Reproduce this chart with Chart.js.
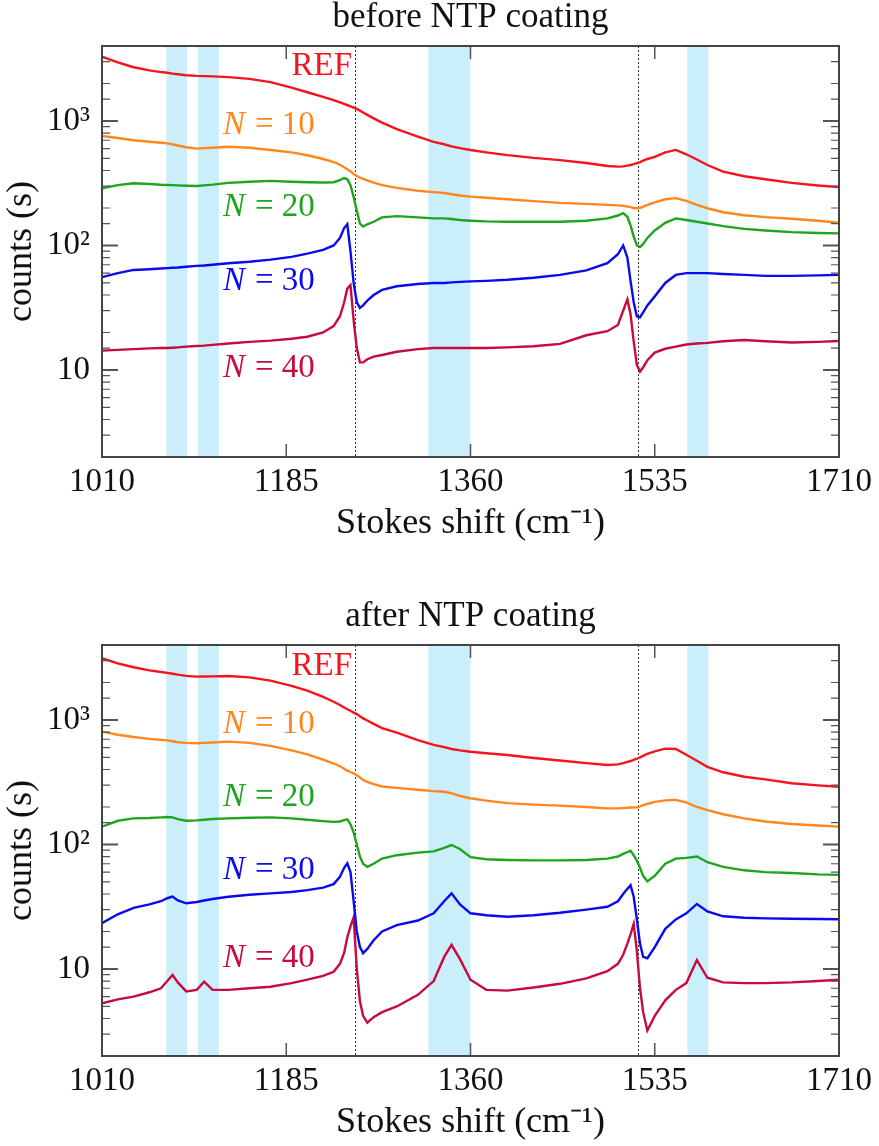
<!DOCTYPE html>
<html><head><meta charset="utf-8">
<script src="https://cdn.jsdelivr.net/npm/chart.js@4/dist/chart.umd.min.js"></script>
<style>
html,body{margin:0;padding:0;background:#fff;}
canvas{position:absolute;left:0;}
#c1{top:0;}
#c2{top:599px;}
</style></head><body>
<canvas id="c1" width="879" height="547"></canvas>
<canvas id="c2" width="879" height="547"></canvas>
<script>
// Stokes shift sample positions (cm^-1)
const shift = [1010,1025,1040,1055,1066,1072,1077,1082,1090,1100,
  1107,1115,1130,1150,1170,1190,1205,1220,1230,1236,
  1240,1243,1246,1249,1252,1255,1258,1262,1268,1276,
  1290,1310,1325,1335,1342,1350,1360,1375,1395,1420,
  1445,1470,1490,1500,1505,1509,1512,1515,1518,1521,
  1524,1528,1535,1545,1555,1565,1575,1585,1600,1620,
  1640,1665,1690,1710];

// before NTP coating
const beforeREF = [3280,2950,2700,2550,2470,2440,2400,2370,2330,2300,
  2290,2280,2250,2180,2050,1850,1700,1560,1470,1410,
  1370,1340,1310,1280,1250,1210,1170,1120,1050,970,
  860,750,680,650,625,605,585,560,532,505,
  485,460,435,430,432,438,443,450,458,468,
  480,495,515,560,585,540,490,443,392,360,
  340,318,303,294];
const beforeN10 = [758,730,700,680,668,660,650,635,615,600,
  605,610,620,610,585,560,530,495,468,445,
  425,410,395,375,362,350,342,333,320,305,
  290,275,268,264,258,252,247,242,235,227,
  220,216,212,210,208,205,203,200,199,200,
  205,212,222,235,240,228,212,199,185,175,
  169,164,158,152];
const beforeN20 = [288,305,316,312,307,306,305,304,302,300,
  304,308,318,325,330,325,322,320,322,335,
  348,340,305,245,190,150,142,148,155,168,
  172,168,165,165,163,160,158,156,155,155,
  155,158,165,174,182,170,145,118,100,97,
  103,115,132,152,165,160,155,150,143,136,
  132,128,126,125];
const beforeN30 = [55.6,60,63.6,64.5,65.3,65.8,66.2,66.6,67.5,68.5,
  69,70,72,74,77,81,86,92,100,115,
  138,148,90,50,35,31.5,33,36,40,44,
  47,49,50,50,50.5,51,51.5,52,53,55,
  58,63,72,85,100,80,52,35,27,26.5,
  29,33,39,50,58,60,60,60,59,58,
  57,57,57.5,58];
const beforeN40 = [14.3,14.5,14.7,14.9,15,15,15.1,15.2,15.4,15.6,
  15.7,15.9,16.3,16.8,17.2,17.8,18.5,20,22.5,27,
  35,45,48,25,15,11.5,11.5,12.2,12.8,13.2,
  14,14.7,15,15,15,15,15,15,15.2,15.5,
  16.2,19,20.5,23,30,37,28,17,11,9.7,
  10.5,12,13.8,14.8,15.4,16,16.3,16.5,17,17.4,
  17,16.6,16.8,17.1];

// after NTP coating
const afterREF = [3130,2850,2650,2500,2430,2390,2350,2310,2260,2230,
  2235,2240,2255,2200,2070,1880,1720,1530,1400,1320,
  1260,1220,1185,1145,1115,1070,1030,990,930,860,
  790,690,630,605,585,570,556,540,523,495,
  472,450,435,440,450,460,468,478,488,500,
  515,535,560,588,585,525,470,420,380,350,
  333,310,298,291];
const afterN10 = [806,760,730,705,692,686,675,662,655,650,
  655,660,670,655,620,570,530,480,447,425,
  405,392,382,373,360,345,330,318,305,292,
  285,275,268,265,258,245,235,225,215,209,
  205,200,195,195,196,197,198,198,199,202,
  207,212,220,226,228,218,200,189,175,162,
  153,146,142,139];
const afterN20 = [139,155,162,163,165,166,165,160,155,156,
  158,160,162,164,165,162,158,154,152,153,
  157,159,145,125,100,80,70,66,70,77,
  82,86,88,94,99,92,79,76,75,74.5,
  74.5,75,77,80,84,87,89,82,74,65,
  56,50.5,56,70,77,78,80,72,66,62,
  60,59,57.5,57];
const afterN30 = [23.3,27.5,31,33,35,37,38.1,35.5,33.7,34.5,
  35.5,36.5,38,39.5,40.5,41.5,43,45,48,55,
  65,70.6,60,35,20,15,13.4,14.5,17,20,
  22.5,24.5,28,35,40.5,33,28,27,26.3,27,
  28.3,30,31.6,35,40,44,47,38,25,16,
  12.5,12.2,15,21,25,28,33.3,29,26.5,25.8,
  25.5,25.3,25.2,25.1];
const afterN40 = [5.3,5.7,6.0,6.5,7.0,8.0,8.95,7.8,6.6,6.8,
  7.9,6.8,6.8,7.0,7.2,7.7,8.2,8.8,9.5,11,
  13.5,18,22,26,10,5.5,4.2,3.7,4.1,4.5,
  5.0,6.2,8,12.5,15.6,12,8.2,6.8,6.7,7.1,
  7.6,8.4,9.6,11,13,16,19,23,14,7,
  4.5,3.2,4.2,5.6,6.8,7.7,11.8,8.5,7.8,7.7,
  7.7,7.8,8.0,8.2];

const seriesNames = ['REF','N = 10','N = 20','N = 30','N = 40'];
const xTicks = [1010,1185,1360,1535,1710];
const yTickLabels = {10:'10',100:'10\u00B2',1000:'10\u00B3'};
const bands = [[1071,1091],[1101,1121],[1320,1360],[1566,1586]];
const markers = [1250.5,1519];
// label anchors (data units)
const labelsBefore = [[1190,2770],[1125,929],[1125,204],[1125,51.9],[1125,10.4]];
const labelsAfter  = [[1190,2716],[1125,920],[1125,241],[1125,62.4],[1125,12.2]];

const colors = ['rgb(245,20,30)','rgb(255,135,30)','rgb(30,165,30)','rgb(10,10,240)','rgb(200,10,60)'];
const FONT = "'Liberation Serif','Times New Roman',serif";
const TXT = '#111';
const BAND = 'rgb(202,238,250)';

function yLabel(v){
  for (const k in yTickLabels){ if (Math.abs(v-k)/k < 1e-6) return yTickLabels[k]; }
  return '';
}
function isMajor(v){ return yLabel(v) !== ''; }

const decor = {
  id:'decor',
  beforeDatasetsDraw(chart){
    const {ctx, chartArea:a, scales:{x}} = chart;
    ctx.save();
    ctx.fillStyle = BAND;
    bands.forEach(([l,r])=>{
      const x1 = x.getPixelForValue(l), x2 = x.getPixelForValue(r);
      ctx.fillRect(x1, a.top, x2-x1, a.bottom-a.top);
    });
    ctx.strokeStyle = '#333'; ctx.lineWidth = 1; ctx.setLineDash([2,2]);
    markers.forEach(m=>{
      const px = Math.round(x.getPixelForValue(m)) + 0.5;
      ctx.beginPath(); ctx.moveTo(px, a.top); ctx.lineTo(px, a.bottom); ctx.stroke();
    });
    ctx.restore();
  },
  afterDatasetsDraw(chart, args, opts){
    const {ctx, chartArea:a, scales:{x,y}} = chart;
    ctx.save();
    // inward ticks
    ctx.strokeStyle = '#555'; ctx.lineWidth = 1.5;
    x.ticks.forEach(t=>{
      const px = x.getPixelForValue(t.value);
      ctx.beginPath();
      ctx.moveTo(px, a.bottom); ctx.lineTo(px, a.bottom-13);
      ctx.moveTo(px, a.top); ctx.lineTo(px, a.top+13);
      ctx.stroke();
    });
    y.ticks.forEach(t=>{
      const py = y.getPixelForValue(t.value);
      if (py < a.top+1 || py > a.bottom-1) return;
      const len = isMajor(t.value) ? 16 : 8;
      ctx.lineWidth = isMajor(t.value) ? 2 : 1.2;
      ctx.beginPath();
      ctx.moveTo(a.left, py); ctx.lineTo(a.left+len, py);
      ctx.moveTo(a.right, py); ctx.lineTo(a.right-len, py);
      ctx.stroke();
    });
    // frame
    ctx.strokeStyle = '#444'; ctx.lineWidth = 2;
    ctx.strokeRect(a.left, a.top, a.right-a.left, a.bottom-a.top);
    // series labels
    ctx.textBaseline = 'middle'; ctx.textAlign = 'left';
    (opts.labels||[]).forEach(([lx,ly],i)=>{
      let px = x.getPixelForValue(lx);
      const py = y.getPixelForValue(ly);
      ctx.fillStyle = colors[i];
      const name = seriesNames[i];
      if (name.startsWith('N')){
        ctx.font = "italic 33px " + FONT;
        ctx.fillText('N', px, py);
        px += ctx.measureText('N').width + 10;
        ctx.font = "33px " + FONT;
        ctx.fillText('=', px, py);
        px += ctx.measureText('=').width + 8;
        ctx.fillText(name.split('= ')[1], px, py);
      } else {
        ctx.font = "33px " + FONT;
        ctx.fillText(name, px, py);
      }
    });
    ctx.restore();
  }
};

function makeChart(id, titleText, series, labels){
  const fTick = {family:FONT, size:33, weight:'normal', lineHeight:1.2};
  const fAxis = {family:FONT, size:36, weight:'normal', lineHeight:1.2};
  const fTitle = {family:FONT, size:35, weight:'normal', lineHeight:1.0};
  return new Chart(document.getElementById(id), {
    type:'line',
    data:{ datasets: series.map((s,i)=>({
      label: seriesNames[i],
      data: shift.map((xv,j)=>({x:xv, y:s[j]})),
      borderColor: colors[i], backgroundColor: colors[i],
      borderWidth: 2.4, pointRadius: 0, tension: 0, fill: false
    }))},
    options:{
      responsive:false, animation:false, devicePixelRatio:1,
      layout:{padding:{left:0,right:40,top:0,bottom:0}},
      plugins:{
        legend:{display:false}, tooltip:{enabled:false},
        title:{display:true, text:titleText, fullSize:false, font:fTitle, color:TXT, padding:{top:0,bottom:11}},
        decor:{labels:labels}
      },
      scales:{
        x:{type:'linear', min:1010, max:1710,
          afterBuildTicks: s=>{ s.ticks = xTicks.map(v=>({value:v})); },
          afterFit: s=>{ s.height = 90; s.paddingLeft = 0; s.paddingRight = 0; },
          grid:{display:false, drawTicks:false}, border:{display:false},
          ticks:{font:fTick, color:TXT, padding:6, maxRotation:0, autoSkip:false, callback:v=>String(v)},
          title:{display:true, text:'Stokes shift (cm\u207B\u00B9)', font:fAxis, color:TXT, padding:{top:0,bottom:2}}
        },
        y:{type:'logarithmic', min:2, max:4000,
          afterFit: s=>{ s.width = 102; s.paddingTop = 0; s.paddingBottom = 0; },
          grid:{display:false, drawTicks:false}, border:{display:false},
          ticks:{font:fTick, color:TXT, padding:12, autoSkip:false, callback:v=>yLabel(v)},
          title:{display:true, text:'counts (s)', font:fAxis, color:TXT, padding:{top:0,bottom:0}}
        }
      }
    },
    plugins:[decor]
  });
}

makeChart('c1','before NTP coating',[beforeREF,beforeN10,beforeN20,beforeN30,beforeN40],labelsBefore);
makeChart('c2','after NTP coating',[afterREF,afterN10,afterN20,afterN30,afterN40],labelsAfter);
</script>
</body></html>
